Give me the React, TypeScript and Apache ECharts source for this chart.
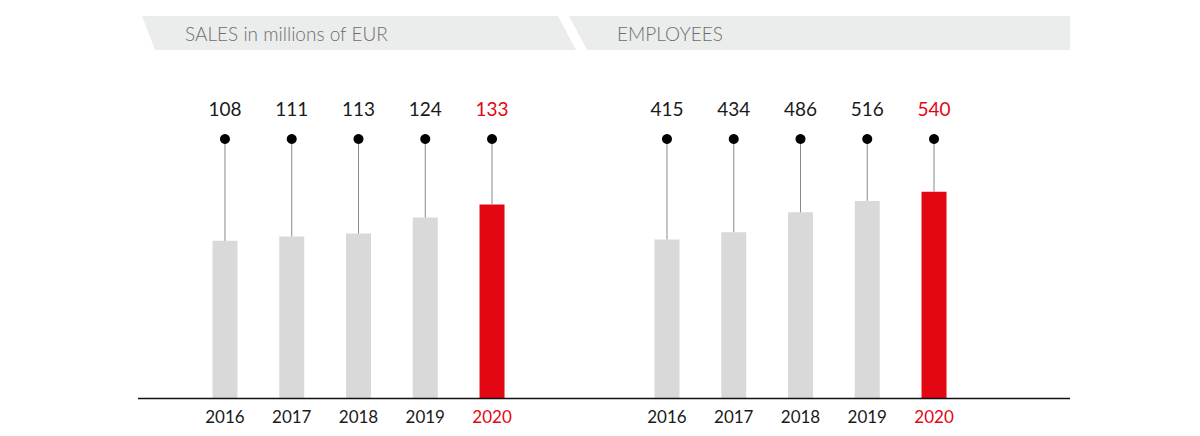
import React, { useEffect, useRef } from "react";
import * as echarts from "echarts";

const years = ["2016", "2017", "2018", "2019", "2020"];
const sales = [108, 111, 113, 124, 133];
const employees = [415, 434, 486, 516, 540];
const salesTitle = "SALES in millions of EUR";
const employeesTitle = "EMPLOYEES";

const RED = "#e30613";
const GREY_BAR = "#d9d9d9";
const FONT = "Lato, 'Open Sans', sans-serif";

export default function App() {
  const ref = useRef<HTMLDivElement>(null);
  useEffect(() => {
    document.body.style.margin = "0";
    if (!ref.current) return;
    const chart = echarts.init(ref.current, undefined, { renderer: "svg" });
    const lastIdx = years.length - 1;

    const renderMarker = (params: any, api: any) => {
      const idx = api.value(0);
      const val = api.value(1);
      const top = api.coord([idx, val]);
      const gridTop = params.coordSys.y;
      const isLast = idx === lastIdx;
      return {
        type: "group",
        children: [
          {
            type: "line",
            shape: { x1: top[0], y1: gridTop, x2: top[0], y2: top[1] },
            style: { stroke: "#8a8a8a", lineWidth: 1 },
          },
          {
            type: "circle",
            shape: { cx: top[0], cy: gridTop, r: 5 },
            style: { fill: "#000" },
          },
          {
            type: "text",
            style: {
              x: top[0],
              y: gridTop - 31,
              text: String(val),
              align: "center",
              verticalAlign: "middle",
              fill: isLast ? RED : "#1a1a1a",
              fontSize: 19,
              fontWeight: 400,
              fontFamily: FONT,
            },
          },
        ],
      };
    };

    const xAxisCommon = (gridIndex: number) => ({
      type: "category",
      gridIndex,
      data: years,
      axisLine: { show: false },
      axisTick: { show: false },
      axisLabel: {
        margin: 10,
        fontSize: 17,
        fontWeight: 400,
        fontFamily: FONT,
        color: (_v: any, i: number) => (i === lastIdx ? RED : "#1a1a1a"),
      },
    });
    const yAxisCommon = (gridIndex: number, max: number) => ({
      type: "value",
      gridIndex,
      min: 0,
      max,
      show: false,
      splitLine: { show: false },
    });

    const barColor = (p: any) => (p.dataIndex === lastIdx ? RED : GREY_BAR);

    chart.setOption({
      animation: false,
      grid: [
        { left: 191.6, top: 139, width: 333.8, height: 259 },
        { left: 633.6, top: 139, width: 333.8, height: 259 },
      ],
      xAxis: [xAxisCommon(0), xAxisCommon(1)],
      yAxis: [yAxisCommon(0, 178), yAxisCommon(1, 678)],
      series: [
        {
          type: "bar",
          xAxisIndex: 0,
          yAxisIndex: 0,
          data: sales,
          barWidth: 25,
          itemStyle: { color: barColor },
        },
        {
          type: "bar",
          xAxisIndex: 1,
          yAxisIndex: 1,
          data: employees,
          barWidth: 25,
          itemStyle: { color: barColor },
        },
        {
          type: "custom",
          xAxisIndex: 0,
          yAxisIndex: 0,
          data: sales.map((v, i) => [i, v]),
          encode: { x: 0, y: 1 },
          renderItem: renderMarker,
          z: 5,
        },
        {
          type: "custom",
          xAxisIndex: 1,
          yAxisIndex: 1,
          data: employees.map((v, i) => [i, v]),
          encode: { x: 0, y: 1 },
          renderItem: renderMarker,
          z: 5,
        },
      ],
      graphic: [
        {
          type: "polygon",
          shape: { points: [[142, 16], [558, 16], [576, 50], [155, 50]] },
          style: { fill: "#ebecec" },
          z: 0,
        },
        {
          type: "polygon",
          shape: { points: [[569, 16], [1070, 16], [1070, 50], [587, 50]] },
          style: { fill: "#ebecec" },
          z: 0,
        },
        {
          type: "text",
          x: 185,
          y: 33,
          style: {
            text: salesTitle,
            fill: "#6e6e6e",
            fontSize: 19,
            fontWeight: 300,
            fontFamily: FONT,
            verticalAlign: "middle",
          },
          z: 1,
        },
        {
          type: "text",
          x: 617,
          y: 33,
          style: {
            text: employeesTitle,
            fill: "#6e6e6e",
            fontSize: 19,
            fontWeight: 300,
            fontFamily: FONT,
            verticalAlign: "middle",
          },
          z: 1,
        },
        {
          type: "line",
          shape: { x1: 138, y1: 398.5, x2: 1070, y2: 398.5 },
          style: { stroke: "#111", lineWidth: 1.5 },
          z: 10,
        },
      ],
    });
    return () => chart.dispose();
  }, []);
  return <div ref={ref} style={{ width: 1200, height: 436 }} />;
}
